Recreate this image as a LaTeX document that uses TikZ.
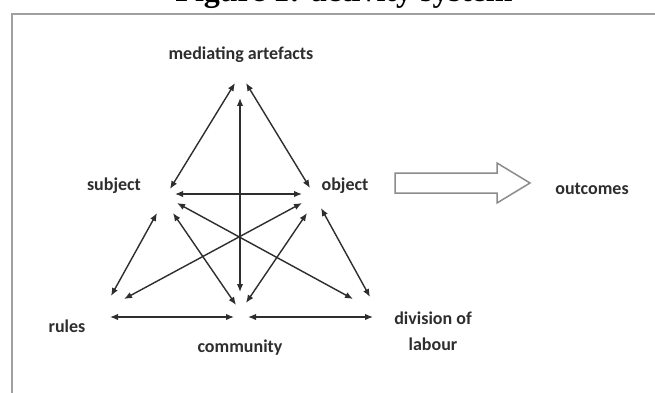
\documentclass[tikz,border=0pt]{standalone}
\usepackage{fontspec}
\setmainfont{Carlito}
\newfontfamily\titlefont{Liberation Serif}
\usetikzlibrary{arrows.meta}
\definecolor{ink}{HTML}{2E2E2E}
\definecolor{framegray}{HTML}{A0A0A0}
\definecolor{hollowgray}{HTML}{8C8C8C}
\begin{document}
\begin{tikzpicture}[x=1pt,y=-1pt,
  lbl/.style={text=ink,font=\bfseries\fontsize{18}{26}\selectfont,inner sep=0pt,align=center},
  link/.style={draw=ink,line width=1.4pt,{Latex[length=8pt,width=6.5pt]}-{Latex[length=8pt,width=6.5pt]}}]
\useasboundingbox (0,0) rectangle (655,393);
\clip (0,0) rectangle (655,393);
\fill[white] (0,0) rectangle (655,393);
% cut-off title
\node[anchor=base,inner sep=0pt,font=\titlefont\bfseries\fontsize{32}{38}\selectfont] (title) at (344,1.5) {Figure 1: activity system};
% frame
\draw[framegray,line width=2pt] (12,14) rectangle (720,460);
% labels
\node[lbl] (ma) at (241,55) {mediating artefacts};
\node[lbl] (subj) at (114,186) {subject};
\node[lbl] (obj) at (345,186) {object};
\node[lbl] (out) at (592,189) {outcomes};
\node[lbl] (rules) at (67,326) {rules};
\node[lbl] (comm) at (240,348) {community};
\node[lbl] (div) at (433,331) {division of\\labour};
% arrow end points
\coordinate (mL) at (235,83); \coordinate (mR) at (246,83); \coordinate (mV) at (240,98);
\coordinate (sMA) at (170,189); \coordinate (sH) at (175,194); \coordinate (sD) at (177,203);
\coordinate (sC) at (173,213); \coordinate (sR) at (157,213);
\coordinate (oMA) at (310,188); \coordinate (oH) at (302,194); \coordinate (oR) at (302,203);
\coordinate (oC) at (307,213); \coordinate (oD) at (321,208);
\coordinate (rS) at (111,296); \coordinate (rO) at (124,299); \coordinate (rH) at (110,317);
\coordinate (cV) at (240,292); \coordinate (cS) at (236,305); \coordinate (cO) at (246,303);
\coordinate (cR) at (234,317); \coordinate (cD) at (248,317);
\coordinate (dS) at (353,299); \coordinate (dO) at (370,297); \coordinate (dH) at (373,317);
% connectors
\draw[link] (mL) -- (sMA);
\draw[link] (mR) -- (oMA);
\draw[link] (mV) -- (cV);
\draw[link] (sH) -- (oH);
\draw[link] (sD) -- (dS);
\draw[link] (oR) -- (rO);
\draw[link] (sC) -- (cS);
\draw[link] (oC) -- (cO);
\draw[link] (sR) -- (rS);
\draw[link] (oD) -- (dO);
\draw[link] (rH) -- (cR);
\draw[link] (cD) -- (dH);
% hollow arrow to outcomes
\draw[hollowgray,line width=1.5pt,fill=white,line join=miter]
  (395,173) -- (497,173) -- (497,163) -- (530,183) -- (497,203) -- (497,193) -- (395,193) -- cycle;
\end{tikzpicture}
\end{document}
